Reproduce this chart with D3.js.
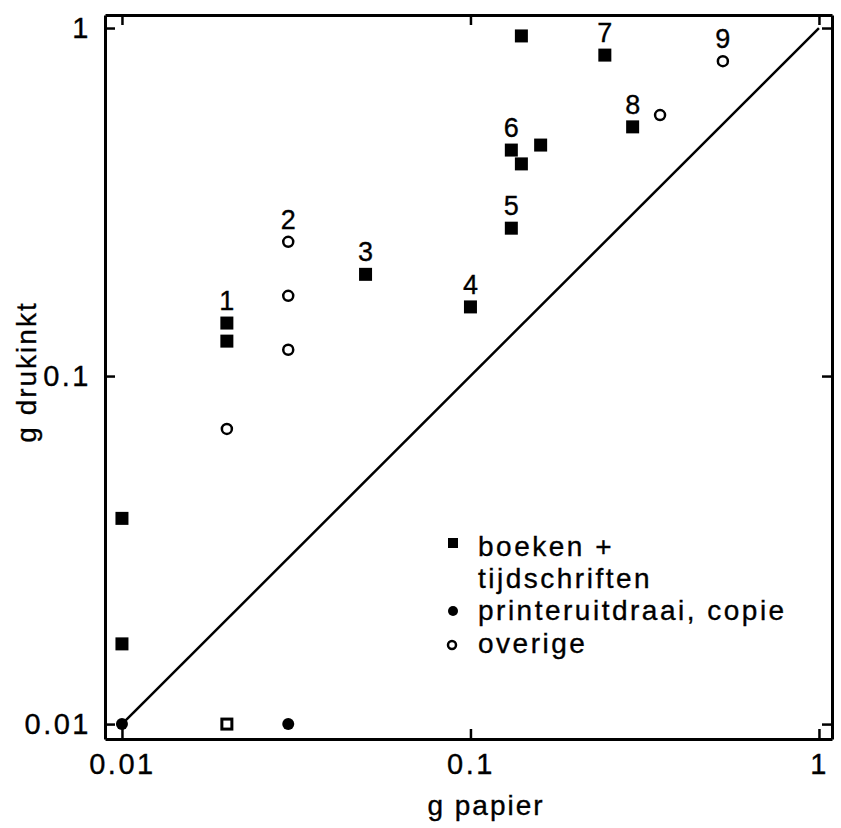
<!DOCTYPE html>
<html>
<head>
<meta charset="utf-8">
<script src="https://cdn.jsdelivr.net/npm/d3@7"></script>
<style>
  body { margin: 0; background: #fff; }
  text { font-family: "Liberation Sans", Arial, sans-serif; fill: #000; stroke: #000; stroke-width: 0.35px; }
</style>
</head>
<body>
<div id="chart"></div>
<script>
// boeken + tijdschriften (filled squares)
var boekenX = [0.01, 0.01, 0.02, 0.02, 0.05, 0.1, 0.131, 0.131, 0.14, 0.159, 0.14, 0.243, 0.292];
var boekenY = [0.039, 0.017, 0.142, 0.126, 0.196, 0.158, 0.266, 0.446, 0.407, 0.461, 0.949, 0.836, 0.52];
// printeruitdraai, copie (filled circles)
var printerX = [0.01, 0.03];
var printerY = [0.01, 0.01];
// overige (open circles)
var overigeX = [0.02, 0.03, 0.03, 0.03, 0.35, 0.53];
var overigeY = [0.0705, 0.243, 0.17, 0.119, 0.562, 0.803];
// single open square
var openX = [0.02];
var openY = [0.01];

var labelText = ['1', '2', '3', '4', '5', '6', '7', '8', '9'];
var labelX = [0.02, 0.03, 0.05, 0.1, 0.131, 0.131, 0.243, 0.292, 0.53];
var labelY = [0.142, 0.243, 0.196, 0.158, 0.266, 0.446, 0.836, 0.52, 0.803];

var xTicks = [0.01, 0.1, 1];
var yTicks = [0.01, 0.1, 1];
var xTickLabels = ['0.01', '0.1', '1'];
var yTickLabels = ['0.01', '0.1', '1'];
var legendNames = [['boeken +', 'tijdschriften'], ['printeruitdraai, copie'], ['overige']];

(function () {
    var svg = d3.select('#chart').append('svg').attr('width', 841).attr('height', 828);

    var m = {left: 105, right: 832, top: 15, bottom: 739};

    var x = d3.scaleLog().domain([0.00894, 1.09]).range([m.left, m.right]);
    var y = d3.scaleLog().domain([0.00906, 1.09]).range([m.bottom, m.top]);

    function styleAxis(g) {
        g.select('.domain').attr('stroke', '#000').attr('stroke-width', 3);
        g.selectAll('.tick line').attr('stroke', '#000').attr('stroke-width', 2.5);
        g.selectAll('.tick text')
            .attr('font-family', '"Liberation Sans", Arial, sans-serif')
            .attr('font-size', 29)
            .attr('letter-spacing', 2.5)
            .attr('fill', '#000');
    }

    svg.append('g')
        .attr('transform', 'translate(0,' + m.bottom + ')')
        .call(d3.axisBottom(x).tickValues(xTicks).tickSize(-10).tickSizeOuter(0).tickPadding(14)
            .tickFormat(function (d, i) { return xTickLabels[i]; }))
        .call(styleAxis);

    svg.append('g')
        .attr('transform', 'translate(0,' + m.top + ')')
        .call(d3.axisTop(x).tickValues(xTicks).tickSize(-10).tickSizeOuter(0).tickFormat(''))
        .call(styleAxis);

    svg.append('g')
        .attr('transform', 'translate(' + m.left + ',0)')
        .call(d3.axisLeft(y).tickValues(yTicks).tickSize(-10).tickSizeOuter(0).tickPadding(14)
            .tickFormat(function (d, i) { return yTickLabels[i]; }))
        .call(styleAxis);

    svg.append('g')
        .attr('transform', 'translate(' + m.right + ',0)')
        .call(d3.axisRight(y).tickValues(yTicks).tickSize(-10).tickSizeOuter(0).tickFormat(''))
        .call(styleAxis);

    // axis titles
    svg.append('text')
        .attr('x', 486).attr('y', 815)
        .attr('text-anchor', 'middle')
        .attr('font-size', 28)
        .attr('letter-spacing', 2)
        .text('g papier');

    svg.append('text')
        .attr('transform', 'translate(36,372) rotate(-90)')
        .attr('text-anchor', 'middle')
        .attr('font-size', 28)
        .attr('letter-spacing', 2)
        .text('g drukinkt');

    // diagonal 1:1 line
    svg.append('path')
        .datum([0.01, 1])
        .attr('fill', 'none')
        .attr('stroke', '#000')
        .attr('stroke-width', 2.5)
        .attr('d', d3.line().x(function (d) { return x(d); }).y(function (d) { return y(d); }));

    // boeken squares
    svg.append('g').selectAll('rect')
        .data(boekenX)
        .enter().append('rect')
        .attr('x', function (d) { return x(d) - 6.5; })
        .attr('y', function (d, i) { return y(boekenY[i]) - 6.5; })
        .attr('width', 13)
        .attr('height', 13)
        .attr('fill', '#000');

    // open square
    svg.append('g').selectAll('rect')
        .data(openX)
        .enter().append('rect')
        .attr('x', function (d) { return x(d) - 5; })
        .attr('y', function (d, i) { return y(openY[i]) - 5; })
        .attr('width', 10)
        .attr('height', 10)
        .attr('fill', '#fff')
        .attr('stroke', '#000')
        .attr('stroke-width', 3);

    // printer filled circles
    svg.append('g').selectAll('circle')
        .data(printerX)
        .enter().append('circle')
        .attr('cx', function (d) { return x(d); })
        .attr('cy', function (d, i) { return y(printerY[i]); })
        .attr('r', 6)
        .attr('fill', '#000');

    // overige open circles
    svg.append('g').selectAll('circle')
        .data(overigeX)
        .enter().append('circle')
        .attr('cx', function (d) { return x(d); })
        .attr('cy', function (d, i) { return y(overigeY[i]); })
        .attr('r', 5)
        .attr('fill', '#fff')
        .attr('stroke', '#000')
        .attr('stroke-width', 2.5);

    // number labels
    svg.append('g').selectAll('text')
        .data(labelText)
        .enter().append('text')
        .attr('x', function (d, i) { return x(labelX[i]); })
        .attr('y', function (d, i) { return y(labelY[i]) - 13; })
        .attr('text-anchor', 'middle')
        .attr('font-size', 27)
        .text(function (d) { return d; });

    // legend
    var legend = svg.append('g').attr('font-size', 28).attr('letter-spacing', 2.5);
    var legendY = [556, 620, 653];

    legend.append('rect').attr('x', 448).attr('y', legendY[0] - 18).attr('width', 10).attr('height', 10).attr('fill', '#000');
    legend.append('circle').attr('cx', 453).attr('cy', legendY[1] - 9).attr('r', 5).attr('fill', '#000');
    legend.append('circle').attr('cx', 452).attr('cy', legendY[2] - 8).attr('r', 4).attr('fill', '#fff')
        .attr('stroke', '#000').attr('stroke-width', 2.5);

    legendNames.forEach(function (lines, i) {
        lines.forEach(function (t, j) {
            legend.append('text')
                .attr('x', 478)
                .attr('y', legendY[i] + j * 32)
                .text(t);
        });
    });
})();
</script>
</body>
</html>
